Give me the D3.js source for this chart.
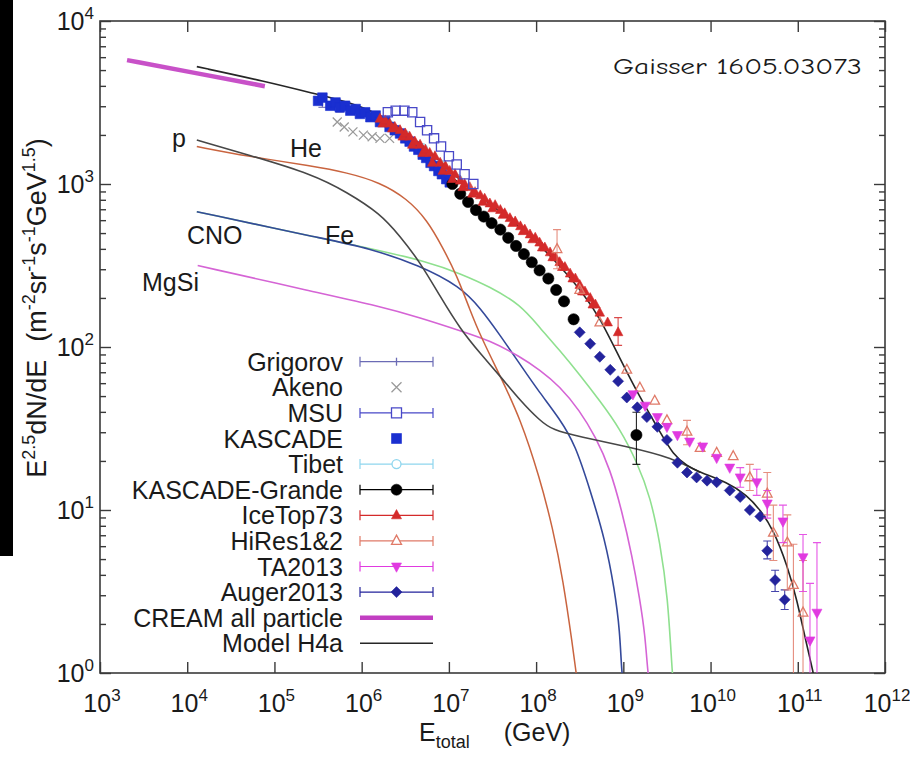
<!DOCTYPE html>
<html>
<head>
<meta charset="utf-8">
<script src="https://cdn.jsdelivr.net/npm/d3@7"></script>
<style>
  body { margin: 0; background: #fff; }
  svg text { font-family: "Liberation Sans", Arial, Helvetica, sans-serif; fill: #1a1a1a; }
</style>
</head>
<body>
<svg id="chart" width="910" height="760"></svg>
<script>
// All points: [log10(E/GeV), log10(E^2.5 dN/dE), optional log10 low, optional log10 high]

// decades shown on the axes
const xTickExps = [3, 4, 5, 6, 7, 8, 9, 10, 11, 12];
const yTickExps = [0, 1, 2, 3, 4];

// ---- Model H4a (total and its mass groups) ----
const modelH4a = [[4.11,3.72],[4.89,3.63],[5.49,3.55],[5.87,3.50],[6.24,3.42],[6.55,3.30],[6.82,3.18],
  [7.09,3.04],[7.36,2.92],[7.67,2.80],[7.96,2.67],[8.27,2.50],[8.54,2.33],[8.73,2.18],[8.96,1.93],
  [9.19,1.69],[9.42,1.48],[9.57,1.34],[9.73,1.27],[9.88,1.23],[10.19,1.17],[10.42,1.09],[10.57,1.00],
  [10.72,0.88],[10.88,0.66],[10.99,0.45],[11.09,0.20],[11.18,0.00],[11.21,-0.10]];
const protonH4a = [[4.11,3.27],[4.69,3.18],[5.44,3.06],[5.83,2.95],[6.21,2.82],[6.44,2.68],[6.67,2.52],
  [6.90,2.31],[7.13,2.11],[7.36,1.96],[7.59,1.82],[7.82,1.67],[8.04,1.55],[8.19,1.49],[8.50,1.45],
  [9.04,1.39],[9.57,1.32],[9.88,1.23]];
const heliumH4a = [[4.11,3.23],[4.69,3.17],[5.44,3.11],[5.83,3.07],[6.21,3.01],[6.52,2.91],[6.75,2.78],
  [6.93,2.61],[7.09,2.44],[7.24,2.23],[7.36,2.07],[7.59,1.82],[7.82,1.56],[8.04,1.20],[8.19,0.89],
  [8.31,0.57],[8.42,0.16],[8.46,0.00],[8.48,-0.10]];
const cnoH4a = [[4.11,2.83],[5.60,2.66],[6.06,2.61],[6.67,2.50],[7.13,2.37],[7.36,2.24],[7.59,2.07],
  [7.82,1.89],[8.04,1.72],[8.27,1.56],[8.45,1.40],[8.62,1.12],[8.79,0.82],[8.90,0.51],[8.96,0.26],
  [8.98,0.00],[9.01,-0.10]];
const mgsiH4a = [[4.12,2.50],[5.44,2.34],[6.21,2.25],[6.67,2.18],[7.13,2.10],[7.47,2.04],[7.82,1.94],
  [8.04,1.86],[8.27,1.76],[8.50,1.61],[8.68,1.45],[8.85,1.25],[8.98,1.00],[9.10,0.72],[9.19,0.45],
  [9.25,0.23],[9.28,0.00],[9.31,-0.10]];
const ironH4a = [[4.11,2.83],[5.60,2.66],[6.06,2.61],[6.78,2.52],[7.13,2.45],[7.47,2.37],[7.82,2.26],
  [8.04,2.12],[8.27,1.98],[8.50,1.83],[8.73,1.67],[8.96,1.50],[9.16,1.29],[9.31,1.08],[9.42,0.80],
  [9.51,0.47],[9.56,0.00],[9.58,-0.10]];

// ---- CREAM all-particle band ----
const creamAll = [[3.31,3.76],[4.10,3.68],[4.89,3.60]];

// ---- air-shower and direct measurements ----
const grigorov = [[5.55,3.50,3.47,3.53],[5.75,3.47,3.44,3.50]];
const akeno = [[5.72,3.38],[5.80,3.35],[5.90,3.32],[6.02,3.30],[6.12,3.29],[6.21,3.28],[6.32,3.28]];
const msu = [[6.30,3.44],[6.39,3.45],[6.49,3.45],[6.58,3.44],[6.67,3.38],[6.75,3.33],[6.83,3.28],
  [6.91,3.23],[7.00,3.17],[7.09,3.12],[7.18,3.06],[7.28,3.00]];
const kascade = [[5.50,3.51],[5.55,3.53],[5.64,3.48],[5.70,3.50],[5.75,3.47],[5.81,3.48],[5.87,3.45],
  [5.93,3.46],[5.98,3.43],[6.04,3.44],[6.10,3.41],[6.16,3.42],[6.21,3.38],[6.27,3.39],[6.32,3.35],
  [6.38,3.33],[6.44,3.31],[6.50,3.28],[6.55,3.26],[6.60,3.23],[6.65,3.21],[6.70,3.18],[6.74,3.16],
  [6.79,3.13],[6.83,3.11],[6.88,3.08],[6.92,3.06],[6.97,3.03],[7.01,3.01]];
const tibet = [[6.30,3.37],[6.50,3.30],[6.70,3.22],[6.90,3.12],[7.10,3.03]];
const kascadeGrande = [[7.04,3.00],[7.13,2.94],[7.22,2.89],[7.31,2.84],[7.40,2.80],[7.49,2.76],
  [7.59,2.72],[7.68,2.67],[7.77,2.62],[7.86,2.57],[7.95,2.52],[8.04,2.47],[8.14,2.42],[8.23,2.35],
  [8.32,2.28],[8.43,2.17],[9.15,1.46,1.28,1.60]];
// two IceTop73 analyses, drawn on top of each other
const iceTop73 = [[6.21,3.40],[6.27,3.39],[6.32,3.37],[6.38,3.35],[6.44,3.33],[6.50,3.31],[6.55,3.29],
  [6.61,3.26],[6.67,3.24],[6.73,3.21],[6.78,3.19],[6.84,3.17],[6.90,3.13],[6.96,3.11],[7.01,3.08],
  [7.07,3.06],[7.13,3.02],[7.18,3.00],[7.24,2.98],[7.30,2.95],[7.36,2.93],[7.41,2.91],[7.47,2.88],
  [7.53,2.87],[7.59,2.84],[7.64,2.82],[7.70,2.79],[7.76,2.77],[7.82,2.74],[7.87,2.72],[7.93,2.69],
  [7.99,2.67],[8.04,2.64],[8.10,2.61],[8.16,2.58],[8.22,2.55],[8.27,2.52],[8.33,2.49],[8.39,2.45],
  [8.45,2.42],[8.50,2.38],[8.56,2.34],[8.62,2.30],[8.68,2.26],[8.73,2.21],[8.82,2.15],[8.94,2.09,2.01,2.18]];
const iceTop73b = [[6.24,3.37],[6.35,3.34],[6.47,3.29],[6.58,3.24],[6.70,3.19],[6.81,3.13],[6.93,3.08],
  [7.04,3.03],[7.16,2.98],[7.27,2.94],[7.39,2.89],[7.50,2.85],[7.62,2.81],[7.73,2.76],[7.85,2.71],
  [7.96,2.66],[8.07,2.61],[8.19,2.55],[8.30,2.49],[8.42,2.42],[8.53,2.34],[8.65,2.26]];
const hiRes = [[8.24,2.60,2.48,2.72],[8.50,2.35],[8.73,2.15],[9.04,1.86],[9.19,1.75],[9.36,1.67],
  [9.50,1.55],[9.73,1.48,1.40,1.55],[9.88,1.38],[10.07,1.35],[10.26,1.33],[10.45,1.20,1.12,1.28],
  [10.65,1.10,0.97,1.23],[10.72,0.86,0.69,1.03],[10.88,0.80,0.51,0.97],[10.95,0.54,-0.2,0.79],
  [11.06,0.37,-0.2,0.69]];
const ta2013 = [[9.11,1.71],[9.25,1.64],[9.39,1.57],[9.50,1.51],[9.62,1.46],[9.76,1.42],[9.91,1.39],
  [10.07,1.32],[10.22,1.26],[10.34,1.20,1.14,1.26],[10.53,1.17,1.09,1.25],[10.65,1.04,0.95,1.12],
  [10.83,0.93,0.80,1.03],[11.06,0.71,0.50,0.85],[11.14,0.20,-0.2,0.55],[11.22,0.37,-0.2,0.80]];
const auger2013 = [[8.50,2.09],[8.62,2.02],[8.73,1.94],[8.85,1.86],[8.94,1.79],[9.04,1.69],[9.16,1.63],
  [9.27,1.57],[9.39,1.51],[9.50,1.43],[9.62,1.29],[9.73,1.23],[9.84,1.20],[9.96,1.18],[10.07,1.17],
  [10.22,1.12],[10.34,1.08],[10.45,1.00],[10.57,0.96],[10.65,0.75,0.70,0.81],[10.74,0.57,0.50,0.63],
  [10.85,0.45,0.39,0.51]];

// ---- text ----
const legendNames = ["Grigorov", "Akeno", "MSU", "KASCADE", "Tibet", "KASCADE-Grande", "IceTop73",
  "HiRes1&2", "TA2013", "Auger2013", "CREAM all particle", "Model H4a"];
const groupLabels = ["p", "He", "CNO", "Fe", "MgSi"];
const creditText = "Gaisser 1605.03073";

// ================= drawing =================
const svg = d3.select("#chart");
const plot = { left: 100, right: 885, top: 21, bottom: 673 };

const x = d3.scaleLog().domain([1e3, 1e12]).range([plot.left, plot.right]);
const y = d3.scaleLog().domain([1, 1e4]).range([plot.bottom, plot.top]);
const X = lg => x(Math.pow(10, lg));
const Y = lg => y(Math.pow(10, lg));

svg.append("rect").attr("width", 910).attr("height", 760).attr("fill", "#fff");
// dark strip along the left edge
svg.append("rect").attr("x", 0).attr("y", 0).attr("width", 13).attr("height", 556).attr("fill", "#000");

svg.append("defs").append("clipPath").attr("id", "plotClip")
  .append("rect").attr("x", plot.left).attr("y", plot.top)
  .attr("width", plot.right - plot.left).attr("height", plot.bottom - plot.top);

const frameColor = "#3a3a3a";

// ---- axes: ticks pointing inward on all four sides ----
const axes = svg.append("g");
const xTicks = xTickExps.map(e => Math.pow(10, e));
const yMajor = yTickExps.map(e => Math.pow(10, e));
const yMinor = [];
yTickExps.slice(0, -1).forEach(e => { for (let k = 2; k <= 9; k++) yMinor.push(k * Math.pow(10, e)); });

axes.append("g").attr("transform", `translate(0,${plot.bottom})`)
  .call(d3.axisBottom(x).tickValues(xTicks).tickSize(-11).tickFormat(""));
axes.append("g").attr("transform", `translate(0,${plot.top})`)
  .call(d3.axisTop(x).tickValues(xTicks).tickSize(-11).tickFormat(""));
axes.append("g").attr("transform", `translate(${plot.left},0)`)
  .call(d3.axisLeft(y).tickValues(yMajor).tickSize(-11).tickFormat(""));
axes.append("g").attr("transform", `translate(${plot.left},0)`)
  .call(d3.axisLeft(y).tickValues(yMinor).tickSize(-6).tickFormat(""));
axes.append("g").attr("transform", `translate(${plot.right},0)`)
  .call(d3.axisRight(y).tickValues(yMajor).tickSize(-11).tickFormat(""));
axes.append("g").attr("transform", `translate(${plot.right},0)`)
  .call(d3.axisRight(y).tickValues(yMinor).tickSize(-6).tickFormat(""));
axes.selectAll(".domain").remove();
axes.selectAll(".tick line").attr("stroke", frameColor).attr("stroke-width", 1.4);

svg.append("rect").attr("x", plot.left).attr("y", plot.top)
  .attr("width", plot.right - plot.left).attr("height", plot.bottom - plot.top)
  .attr("fill", "none").attr("stroke", frameColor).attr("stroke-width", 1.6);

// tick labels 10^n
xTickExps.forEach(e => {
  const t = svg.append("text").attr("x", x(Math.pow(10, e)) + 2).attr("y", 712)
    .attr("text-anchor", "middle").attr("font-size", 25);
  t.append("tspan").text("10");
  t.append("tspan").attr("dy", -11).attr("font-size", 17).text(e);
});
yTickExps.forEach(e => {
  const t = svg.append("text").attr("x", 94).attr("y", y(Math.pow(10, e)) + 9)
    .attr("text-anchor", "end").attr("font-size", 25);
  t.append("tspan").text("10");
  t.append("tspan").attr("dy", -11).attr("font-size", 17).text(e);
});

// axis titles
const xt = svg.append("text").attr("x", 419).attr("y", 741).attr("font-size", 25);
xt.append("tspan").text("E");
xt.append("tspan").attr("dy", 7).attr("font-size", 18).text("total");
xt.append("tspan").attr("dy", -7).attr("dx", 34).text("(GeV)");

const yt = svg.append("text").attr("transform", "translate(46,308) rotate(-90)")
  .attr("text-anchor", "middle").attr("font-size", 27);
yt.append("tspan").text("E");
yt.append("tspan").attr("dy", -11).attr("font-size", 18).text("2.5");
yt.append("tspan").attr("dy", 11).text("dN/dE");
yt.append("tspan").attr("dx", 18).text("(m");
yt.append("tspan").attr("dy", -11).attr("font-size", 18).text("-2");
yt.append("tspan").attr("dy", 11).text("sr");
yt.append("tspan").attr("dy", -11).attr("font-size", 18).text("-1");
yt.append("tspan").attr("dy", 11).text("s");
yt.append("tspan").attr("dy", -11).attr("font-size", 18).text("-1");
yt.append("tspan").attr("dy", 11).text("GeV");
yt.append("tspan").attr("dy", -11).attr("font-size", 18).text("1.5");
yt.append("tspan").attr("dy", 11).text(")");

// ---- curves ----
const plotArea = svg.append("g").attr("clip-path", "url(#plotClip)");
const line = d3.line().x(d => X(d[0])).y(d => Y(d[1])).curve(d3.curveBasis);

const curves = [
  { data: ironH4a,   color: "#8fe08f", width: 1.6 },
  { data: cnoH4a,    color: "#34499a", width: 1.6 },
  { data: mgsiH4a,   color: "#d564d5", width: 1.6 },
  { data: heliumH4a, color: "#c9643f", width: 1.5 },
  { data: protonH4a, color: "#474747", width: 1.6 },
  { data: modelH4a,  color: "#262626", width: 1.6 },
];
curves.forEach(c => plotArea.append("path").datum(c.data).attr("d", line)
  .attr("fill", "none").attr("stroke", c.color).attr("stroke-width", c.width));

plotArea.append("path").datum(creamAll).attr("d", line)
  .attr("fill", "none").attr("stroke", "#c23ec2").attr("stroke-width", 4.5)
  .attr("stroke-linecap", "butt").attr("opacity", 0.9);

// ---- markers ----
function markerPath(shape, s) {
  switch (shape) {
    case "square":  return `M${-s},${-s}H${s}V${s}H${-s}Z`;
    case "diamond": return `M0,${-s * 1.25}L${s * 1.25},0L0,${s * 1.25}L${-s * 1.25},0Z`;
    case "triUp":   return `M0,${-s * 1.15}L${s},${s * 0.7}L${-s},${s * 0.7}Z`;
    case "triDown": return `M0,${s * 1.15}L${s},${-s * 0.7}L${-s},${-s * 0.7}Z`;
    case "circle":  return `M${-s},0A${s},${s} 0 1,0 ${s},0A${s},${s} 0 1,0 ${-s},0Z`;
    case "cross":   return `M${-s},${-s}L${s},${s}M${-s},${s}L${s},${-s}`;
    case "tick":    return `M0,${-s}V${s}`;
  }
}

const series = [
  { data: tibet,         color: "#8fd6ee", shape: "circle",  size: 4.5, filled: false },
  { data: grigorov,      color: "#6b6bb5", shape: "tick",    size: 4,   filled: false },
  { data: akeno,         color: "#9a9a9a", shape: "cross",   size: 4.5, filled: false },
  { data: kascade,       color: "#1a2fd0", shape: "square",  size: 4.8, filled: true },
  { data: kascadeGrande, color: "#000000", shape: "circle",  size: 5.6, filled: true },
  { data: auger2013,     color: "#23239c", shape: "diamond", size: 4.4, filled: true },
  { data: iceTop73b,     color: "#d42a2a", shape: "triUp",   size: 4.8, filled: true },
  { data: iceTop73,      color: "#d42a2a", shape: "triUp",   size: 4.8, filled: true },
  { data: msu,           color: "#4848c8", shape: "square",  size: 4.6, filled: false },
  { data: hiRes,         color: "#e07a68", shape: "triUp",   size: 4.8, filled: false },
  { data: ta2013,        color: "#e03ae0", shape: "triDown", size: 5.0, filled: true },
];

series.forEach(s => {
  const g = plotArea.append("g");
  const withErr = s.data.filter(d => d.length === 4);
  g.selectAll("path.err").data(withErr).join("path").attr("class", "err")
    .attr("d", d => {
      const xx = X(d[0]), lo = Y(d[2]), hi = Y(d[3]);
      return `M${xx},${lo}V${hi}M${xx - 4},${lo}H${xx + 4}M${xx - 4},${hi}H${xx + 4}`;
    })
    .attr("stroke", s.color).attr("stroke-width", 1.1).attr("fill", "none").attr("opacity", 0.85);
  const lineOnly = s.shape === "cross" || s.shape === "tick";
  g.selectAll("path.mk").data(s.data).join("path").attr("class", "mk")
    .attr("transform", d => `translate(${X(d[0])},${Y(d[1])})`)
    .attr("d", markerPath(s.shape, s.size))
    .attr("fill", s.filled ? s.color : (lineOnly ? "none" : "rgba(255,255,255,0.15)"))
    .attr("stroke", s.color).attr("stroke-width", s.filled ? 0.6 : 1.3);
});

// ---- mass-group labels ----
const labelPos = [[172, 147], [290, 157], [187, 244], [325, 244], [142, 291]];
groupLabels.forEach((t, i) => svg.append("text").attr("x", labelPos[i][0]).attr("y", labelPos[i][1])
  .attr("font-size", 25).text(t));

// ---- credit ----
svg.append("text").attr("x", 613).attr("y", 74)
  .style("font-family", "'Comic Sans MS','Comic Neue','DejaVu Sans',sans-serif")
  .attr("font-size", 23).attr("textLength", 249).attr("lengthAdjust", "spacingAndGlyphs")
  .text(creditText);

// ---- legend ----
const legendStyle = [
  { color: "#6b6bb5", bar: true,  shape: "tick",    size: 4,   filled: false },
  { color: "#9a9a9a", bar: false, shape: "cross",   size: 5,   filled: false },
  { color: "#4848c8", bar: true,  shape: "square",  size: 5,   filled: false },
  { color: "#1a2fd0", bar: false, shape: "square",  size: 5,   filled: true },
  { color: "#8fd6ee", bar: true,  shape: "circle",  size: 4.5, filled: false },
  { color: "#000000", bar: true,  shape: "circle",  size: 5.5, filled: true },
  { color: "#d42a2a", bar: true,  shape: "triUp",   size: 5,   filled: true },
  { color: "#e07a68", bar: true,  shape: "triUp",   size: 5,   filled: false },
  { color: "#e03ae0", bar: true,  shape: "triDown", size: 5,   filled: true },
  { color: "#23239c", bar: true,  shape: "diamond", size: 4.4, filled: true },
  { color: "#c23ec2", band: 4.5 },
  { color: "#262626", band: 1.6 },
];
const leg = svg.append("g");
const lx0 = 360, lx1 = 433, lxc = 396.5;
legendNames.forEach((name, i) => {
  const cy = 361.7 + i * 25.6;
  const st = legendStyle[i];
  leg.append("text").attr("x", 343).attr("y", cy + 9).attr("text-anchor", "end")
    .attr("font-size", 25).text(name);
  if (st.band) {
    leg.append("line").attr("x1", lx0).attr("x2", lx1).attr("y1", cy).attr("y2", cy)
      .attr("stroke", st.color).attr("stroke-width", st.band);
    return;
  }
  if (st.bar) {
    leg.append("path").attr("d", `M${lx0},${cy}H${lx1}M${lx0},${cy - 5}V${cy + 5}M${lx1},${cy - 5}V${cy + 5}`)
      .attr("stroke", st.color).attr("stroke-width", 1.2).attr("fill", "none");
  }
  const lineOnly = st.shape === "cross" || st.shape === "tick";
  leg.append("path").attr("transform", `translate(${lxc},${cy})`)
    .attr("d", markerPath(st.shape, st.size))
    .attr("fill", st.filled ? st.color : (lineOnly ? "none" : "#fff"))
    .attr("stroke", st.color).attr("stroke-width", st.filled ? 0.6 : 1.3);
});
</script>
</body>
</html>
